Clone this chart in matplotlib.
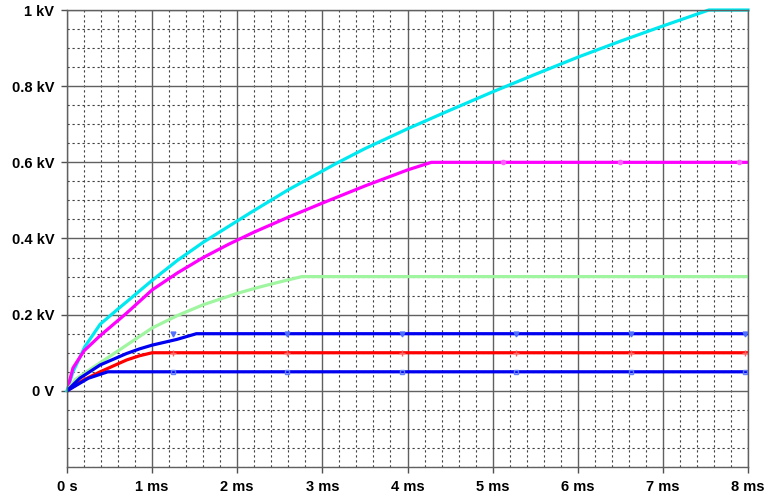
import numpy as np
import matplotlib.pyplot as plt
from matplotlib.ticker import MultipleLocator

# time in ms, voltage in kV
cyan_t = [0, 0.07, 0.21, 0.39, 0.6, 1.0, 1.3, 1.6, 2.15, 2.6, 3.17, 3.5, 4.0,
          4.5, 5.0, 5.5, 6.0, 6.5, 7.0, 7.54, 8.0]
cyan_v = [0, 0.05, 0.116, 0.175, 0.215, 0.29, 0.343, 0.39, 0.467, 0.528, 0.598,
          0.636, 0.688, 0.737, 0.785, 0.831, 0.876, 0.918, 0.958, 1.0, 1.0]

magenta_t = [0, 0.07, 0.2, 0.39, 0.7, 1.0, 1.3, 1.6, 1.9, 2.2, 2.6, 3.0, 3.5,
             4.0, 4.28, 8.0]
magenta_v = [0, 0.06, 0.105, 0.145, 0.204, 0.265, 0.31, 0.35, 0.385, 0.417,
             0.456, 0.493, 0.538, 0.58, 0.6, 0.6]

green_t = [0, 0.1, 0.31, 0.5, 0.7, 1.0, 1.3, 1.6, 2.0, 2.27, 2.5, 2.76, 8.0]
green_v = [0, 0.03, 0.062, 0.09, 0.12, 0.165, 0.198, 0.226, 0.256, 0.273,
           0.286, 0.3, 0.3]

red_t = [0, 0.19, 0.39, 0.7, 0.85, 1.0, 8.0]
red_v = [0, 0.028, 0.05, 0.081, 0.092, 0.1, 0.1]

blue_hi_t = [0, 0.15, 0.39, 0.7, 0.85, 1.0, 1.29, 1.52, 8.0]
blue_hi_v = [0, 0.033, 0.068, 0.098, 0.11, 0.12, 0.135, 0.15, 0.15]

blue_lo_t = [0, 0.25, 0.48, 8.0]
blue_lo_v = [0, 0.033, 0.05, 0.05]

# small markers sitting on the flat parts
mark_t = [1.24, 2.59, 3.93, 5.28, 6.62, 7.97]
magenta_mark_t = [5.12, 6.5, 7.9]

xticks = [0, 1, 2, 3, 4, 5, 6, 7, 8]
xlabels = ['0 s', '1 ms', '2 ms', '3 ms', '4 ms', '5 ms', '6 ms', '7 ms', '8 ms']
yticks = [0, 0.2, 0.4, 0.6, 0.8, 1.0]
ylabels = ['0 V', '0.2 kV', '0.4 kV', '0.6 kV', '0.8 kV', '1 kV']

plt.rcParams['font.family'] = ['Liberation Sans', 'DejaVu Sans']

fig = plt.figure(figsize=(7.71, 4.98), dpi=100)
ax = fig.add_axes([67 / 771, 31 / 498, 681 / 771, 457 / 498])

ax.set_xlim(0, 8)
ax.set_ylim(-0.2, 1.0)
ax.xaxis.set_minor_locator(MultipleLocator(0.2))
ax.yaxis.set_minor_locator(MultipleLocator(0.05))
ax.set_xticks(xticks)
ax.set_xticklabels(xlabels, fontweight='bold', fontsize=10.5)
ax.set_yticks(yticks)
ax.set_yticklabels(ylabels, fontweight='bold', fontsize=10.5)
ax.tick_params(which='major', length=4, width=1, color='#505050', pad=5)
ax.tick_params(which='minor', length=0)

ax.grid(which='major', color='#606060', linewidth=1.0)
ax.grid(which='minor', color='#404040', linewidth=0.8, linestyle=(0, (2, 2.5)))
ax.set_axisbelow(True)
for s in ax.spines.values():
    s.set_color('#606060')
    s.set_linewidth(1.0)

lw = 2.3
ax.plot(cyan_t, cyan_v, color='#00E8F0', lw=lw, clip_on=False)
ax.plot(magenta_t, magenta_v, color='#FF00FF', lw=lw)
ax.plot(magenta_mark_t, [0.6] * len(magenta_mark_t), ls='none', marker='o',
        ms=3, color='#FF60FF')
ax.plot(green_t, green_v, color='#A0F5A0', lw=lw)
ax.plot(red_t, red_v, color='#FF0000', lw=lw)
ax.plot(mark_t, [0.1] * len(mark_t), ls='none', marker='+', ms=4, mew=1,
        color='#FF6060')
ax.plot(blue_hi_t, blue_hi_v, color='#0000F0', lw=lw)
ax.plot(mark_t, [0.15] * len(mark_t), ls='none', marker='v', ms=3.5,
        color='#5070FF')
ax.plot(blue_lo_t, blue_lo_v, color='#0000F0', lw=lw)
ax.plot(mark_t, [0.05] * len(mark_t), ls='none', marker='s', ms=3.5,
        mfc='none', mew=1, color='#6080FF')

fig.savefig('out.png', dpi=100)
